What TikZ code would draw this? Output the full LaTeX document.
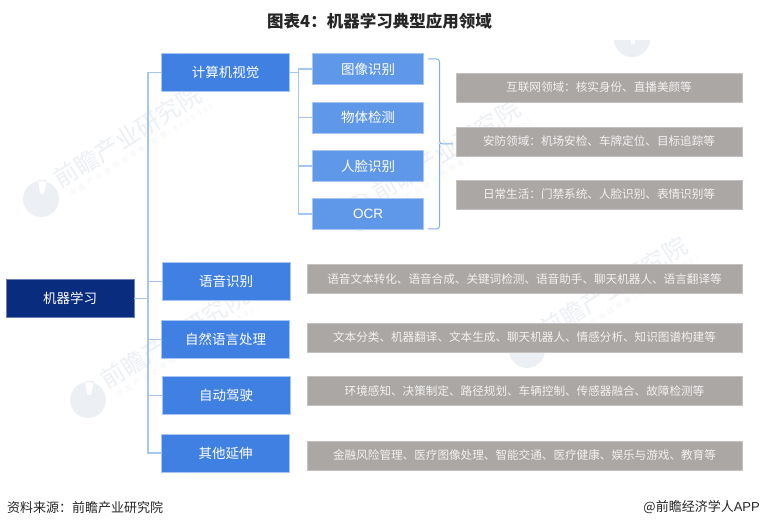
\documentclass[tikz,border=0pt]{standalone}
\usepackage{fontspec}
\setmainfont{Noto Sans CJK SC}
\newfontfamily\latinfont{Liberation Sans}
\newfontfamily\marcafont[LetterSpace=45]{Noto Sans CJK SC}
\usetikzlibrary{positioning,calc}
\definecolor{craiz}{HTML}{0A2C7E}
\definecolor{crama}{HTML}{3F80E2}
\definecolor{choja}{HTML}{5F98E8}
\definecolor{cnota}{HTML}{ABA7A5}
\definecolor{cborde}{HTML}{A8C6F2}
\definecolor{ccanal}{HTML}{A6C6F2}
\definecolor{cllave}{HTML}{7FAEEE}
\definecolor{cmarca}{HTML}{ECEFF4}
\definecolor{cmarcab}{HTML}{F1F3F7}
\definecolor{ctexto}{HTML}{F2F2F2}
\tikzset{
  bloque/.style={draw=cborde,line width=0.7pt,align=center,text=white,inner sep=0pt},
  raiz/.style={bloque,fill=craiz,draw=craiz!60!white,minimum width=128pt,minimum height=38pt,font=\fontsize{13.5}{15}\selectfont},
  rama/.style={bloque,fill=crama,minimum width=128pt,minimum height=38pt,font=\fontsize{13.5}{15}\selectfont},
  hoja/.style={bloque,fill=choja,minimum width=111pt,minimum height=31pt,font=\fontsize{13.5}{15}\selectfont},
  nota/.style={fill=cnota,draw=cnota!70!white,line width=0.6pt,text=ctexto,inner sep=0pt,minimum height=29pt,font=\fontsize{11.6}{13}\selectfont},
  notag/.style={nota,minimum width=286pt},
  notaa/.style={nota,minimum width=435pt},
  canal/.style={draw=ccanal,line width=1.4pt},
  llave/.style={draw=cllave,line width=1pt,rounded corners=3pt},
  marca/.style={text=cmarca,rotate=32,anchor=south west,inner sep=0pt,font=\fontsize{24}{26}\selectfont},
  marcab/.style={marca,text=cmarcab,font=\fontsize{7}{9}\selectfont\marcafont},
  logo/.style={fill=cmarca,even odd rule},
  pie/.style={text=black!85,inner sep=0pt,font=\fontsize{13}{15}\selectfont},
}
\begin{document}
\begin{tikzpicture}[x=1pt,y=1pt]
\useasboundingbox (0,-529) rectangle (760,0);

% ---------------- marca de agua ----------------
\foreach \x/\y [count=\i] in {41/-199,360/-213,88/-400,527/-350} {
  \fill[logo] (\x,\y) circle (18)
    (\x-3,\y+19) -- (\x+6,\y+19) -- (\x+3,\y+5) -- (\x-1,\y+5) -- cycle;
  \node[marca] (m\i) at (\x+21,\y+8) {前瞻产业研究院};
  \node[marcab] (s\i) at (\x+31,\y+1) {中国产业咨询领导者(股票:839599)};
}
\begin{scope}
  \clip (600,-41) rectangle (660,-60);
  \fill[logo] (632,-39) circle (18)
    (629,-20) -- (638,-20) -- (635,-44) -- (631,-44) -- cycle;
\end{scope}

% ---------------- titulo ----------------
\node[inner sep=0pt,font=\fontsize{16.5}{18}\selectfont\bfseries,text=black!85] (titulo) at (379.5,-21) {图表4^^^^ff1a机器学习典型应用领域};

% ---------------- primer nivel ----------------
\node[raiz] (ml) at (70,-298.5) {机器学习};
\node[rama] (vis) at (225.5,-72.5)  {计算机视觉};
\node[rama] (voz) at (226,-281.5)   {语音识别};
\node[rama] (nlp) at (225.5,-339.5) {自然语言处理};
\node[rama] (aut) at (226,-395.5)   {自动驾驶};
\node[rama] (otr) at (225.5,-453)   {其他延伸};

% ---------------- vision ----------------
\node[hoja] (h1) at (368,-69)    {图像识别};
\node[hoja] (h2) at (368,-117.5) {物体检测};
\node[hoja] (h3) at (368,-166)   {人脸识别};
\node[hoja] (h4) at (368,-214)   {\latinfont OCR};

\node[notag] (g1) at (599,-87.5)  {互联网领域^^^^ff1a核实身份、直播美颜等};
\node[notag] (g2) at (599,-141.5) {安防领域^^^^ff1a机场安检、车牌定位、目标追踪等};
\node[notag] (g3) at (599,-194.5) {日常生活^^^^ff1a门禁系统、人脸识别、表情识别等};

% ---------------- filas ----------------
\node[notaa] (n1) at (524.5,-279) {语音文本转化、语音合成、关键词检测、语音助手、聊天机器人、语言翻译等};
\node[notaa] (n2) at (524.5,-337.5) {文本分类、机器翻译、文本生成、聊天机器人、情感分析、知识图谱构建等};
\node[notaa] (n3) at (524.5,-391) {环境感知、决策制定、路径规划、车辆控制、传感器融合、故障检测等};
\node[notaa] (n4) at (524.5,-455.5) {金融风险管理、医疗图像处理、智能交通、医疗健康、娱乐与游戏、教育等};

% ---------------- conectores ----------------
\coordinate (tronco) at (148,-298.5);
\coordinate (eje) at (298.5,-72.5);
\draw[canal] (ml.east) -- (tronco);
\foreach \r in {vis,voz,nlp,aut,otr}
  \draw[canal] (tronco) |- (\r.west);
\draw[canal] (vis.east) -- (eje);
\foreach \h in {h1,h2,h3,h4}
  \draw[canal] (eje) |- (\h.west);

\coordinate (ll1) at (428,-59);
\coordinate (ll2) at (439.5,-144);
\coordinate (ll3) at (428,-229);
\coordinate (ll4) at (453,-144);
\draw[llave] (ll1) -| (ll2) -- (ll4);
\draw[llave] (ll3) -| (ll2);

% ---------------- pie ----------------
\node[pie,anchor=west] (fuente) at (7,-508) {资料来源^^^^ff1a前瞻产业研究院};
\node[pie,anchor=east] (autor) at (760,-507) {@前瞻经济学人{\latinfont APP}};

\end{tikzpicture}
\end{document}
